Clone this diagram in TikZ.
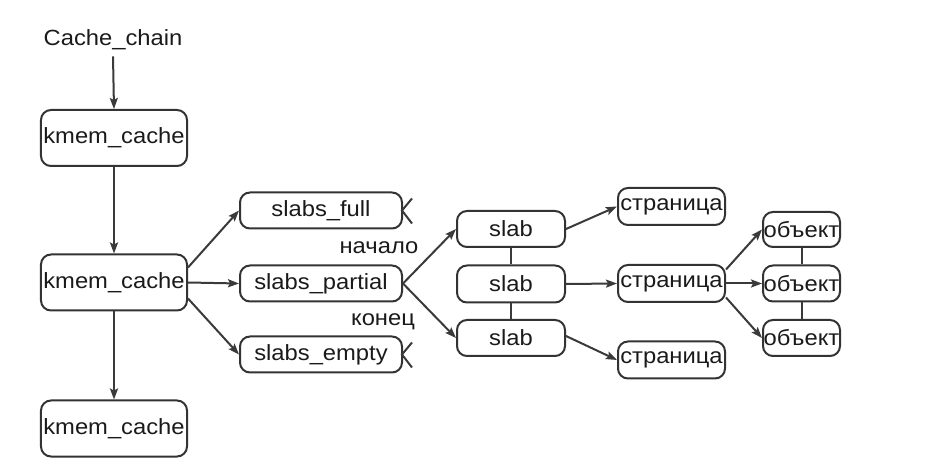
\documentclass[tikz,border=0pt]{standalone}
\usepackage{fontspec}
\setmainfont{Liberation Sans}[FakeStretch=1.08]
\usetikzlibrary{arrows.meta}
\definecolor{ln}{HTML}{3A3A3A}
\definecolor{bd}{HTML}{333333}
\definecolor{tx}{HTML}{1A1A1A}
\begin{document}
\begin{tikzpicture}[x=1bp,y=-1bp,
  box/.style={draw=bd,line width=2bp,rounded corners=10bp,inner sep=0pt,
    font=\fontsize{22bp}{24bp}\selectfont,text=tx},
  lbl/.style={inner sep=0pt,font=\fontsize{22bp}{24bp}\selectfont,text=tx},
  arr/.style={draw=ln,line width=2bp,-{Stealth[length=11bp,width=8bp,inset=2bp]}},
  lnk/.style={draw=ln,line width=2bp},
  nul/.style={draw=ln,line width=2bp}]
\useasboundingbox (0,0) rectangle (942,466);
% left column
\node[lbl] (cc) at (113,40) {Cache\_chain};
\node[box,minimum width=146bp,minimum height=56bp] (k1) at (114,138) {kmem\_cache};
\node[box,minimum width=146bp,minimum height=56bp] (k2) at (114,282.5) {kmem\_cache};
\node[box,minimum width=146bp,minimum height=56bp] (k3) at (114,428.5) {kmem\_cache};
% slabs lists
\node[box,minimum width=162bp,minimum height=36bp] (sf) at (321,210.5) {slabs\_full};
\node[box,minimum width=162bp,minimum height=36bp] (sp) at (321,283.5) {slabs\_partial};
\node[box,minimum width=162bp,minimum height=36bp] (se) at (321,354.5) {slabs\_empty};
\node[lbl] (beg) at (379,248) {начало};
\node[lbl] (end) at (383,322) {конец};
% slabs
\node[box,minimum width=108bp,minimum height=36bp] (s1) at (511,229) {slab};
\node[box,minimum width=108bp,minimum height=37bp] (s2) at (511,284) {slab};
\node[box,minimum width=108bp,minimum height=36bp] (s3) at (511,338) {slab};
% pages
\node[box,minimum width=107bp,minimum height=37bp] (p1) at (671.5,206.5) {страница};
\node[box,minimum width=107bp,minimum height=37bp] (p2) at (671.5,283.5) {страница};
\node[box,minimum width=107bp,minimum height=37bp] (p3) at (671.5,360) {страница};
% objects
\node[box,minimum width=77bp,minimum height=35bp] (o1) at (801.5,229.5) {объект};
\node[box,minimum width=77bp,minimum height=36bp] (o2) at (801.5,283.5) {объект};
\node[box,minimum width=77bp,minimum height=36bp] (o3) at (801.5,338) {объект};
% null markers
\coordinate (nf) at ([xshift=-1bp]sf.east);
\coordinate (ne) at ([xshift=-1bp]se.east);
\draw[nul] ([xshift=10bp,yshift=12bp]nf) -- (nf) -- ([xshift=10bp,yshift=-13bp]nf);
\draw[nul] ([xshift=10bp,yshift=12bp]ne) -- (ne) -- ([xshift=10bp,yshift=-13bp]ne);
% arrows
\draw[arr] ([yshift=-6bp]cc.south) -- (k1.north);
\draw[arr] (k1.south) -- (k2.north);
\draw[arr] (k2.south) -- (k3.north);
\draw[arr] ([yshift=15bp]k2.east) -- (sf.west);
\draw[arr] (k2.east) -- (sp.west);
\draw[arr] ([yshift=-16bp]k2.east) -- (se.west);
\draw[arr] (sp.east) -- (s1.west);
\draw[arr] (sp.east) -- (s3.west);
\draw[lnk] (s1.south) -- (s2.north);
\draw[lnk] (s2.south) -- (s3.north);
\draw[arr] (s1.east) -- (p1.west);
\draw[arr] (s2.east) -- (p2.west);
\draw[arr] ([yshift=2bp]s3.east) -- (p3.west);
\draw[arr] ([yshift=14bp]p2.east) -- (o1.west);
\draw[arr] (p2.east) -- (o2.west);
\draw[arr] ([yshift=-14bp]p2.east) -- (o3.west);
\draw[lnk] (o1.south) -- (o2.north);
\draw[lnk] (o2.south) -- (o3.north);
\end{tikzpicture}
\end{document}
